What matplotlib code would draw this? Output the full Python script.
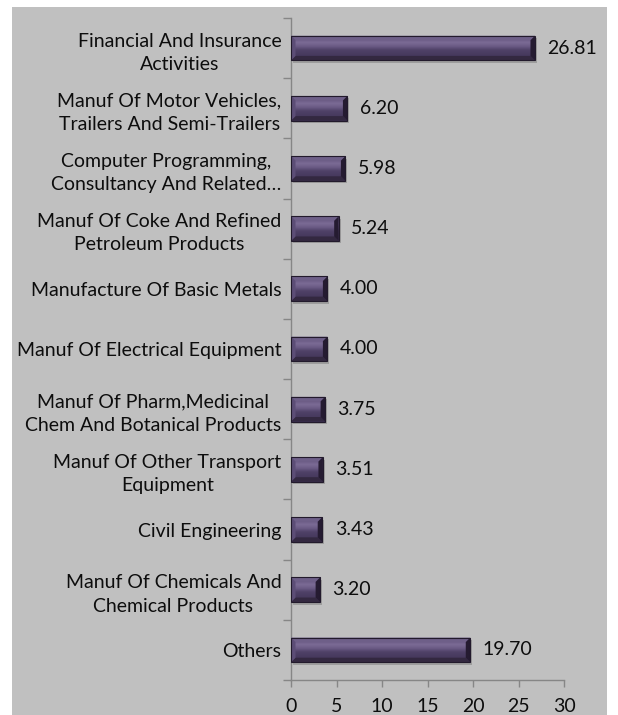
import matplotlib
matplotlib.use("Agg")
import matplotlib.pyplot as plt
import numpy as np
from matplotlib.patches import Polygon, Rectangle
from matplotlib.colors import LinearSegmentedColormap

categories = [
    "Financial And Insurance\nActivities",
    "Manuf Of Motor Vehicles,\nTrailers And Semi-Trailers",
    "Computer Programming,\nConsultancy And Related\u2026",
    "Manuf Of Coke And Refined\nPetroleum Products",
    "Manufacture Of Basic Metals",
    "Manuf Of Electrical Equipment",
    "Manuf Of Pharm,Medicinal\nChem And Botanical Products",
    "Manuf Of Other Transport\nEquipment",
    "Civil Engineering",
    "Manuf Of Chemicals And\nChemical Products",
    "Others",
]
values = [26.81, 6.20, 5.98, 5.24, 4.00, 4.00, 3.75, 3.51, 3.43, 3.20, 19.70]
x_ticks = [0, 5, 10, 15, 20, 25, 30]

plt.rcParams['font.family'] = ['Lato', 'DejaVu Sans']
FS = 14
TXT = '#0d0d0d'
W, H = 618, 715
fig = plt.figure(figsize=(W / 100, H / 100), dpi=100)
fig.patch.set_facecolor('white')
fig.patches.append(Rectangle((12 / W, 0), (607 - 12) / W, (H - 7) / H,
                             transform=fig.transFigure, facecolor='#c0c0c0',
                             edgecolor='none', zorder=-10))

ax = fig.add_axes([291 / W, 35 / H, (564 - 291) / W, (680 - 18) / H])
ax.set_facecolor('none')
n = len(categories)
y = np.arange(n)
bar_h = 0.41
ax.set_xlim(0, 30)
ax.set_ylim(n - 0.5, -0.5)

bars = ax.barh(y, values, height=bar_h, color='#4b3d63', edgecolor='none', zorder=3)

# pixel -> data conversion for bevel size
p0 = ax.transData.transform((0, 0))
p1 = ax.transData.transform((1, 1))
ppx = abs(p1[0] - p0[0])
ppy = abs(p1[1] - p0[1])
bevel = 4.5
bx, by = bevel / ppx, bevel / ppy
sx, sy = 2.0 / ppx, 2.5 / ppy

face_cmap = LinearSegmentedColormap.from_list(
    'face', [(0.0, '#5a4a73'), (0.30, '#7b6b95'), (0.45, '#6a5a84'),
             (0.6, '#4f4167'), (1.0, '#3f3255')])
grad = np.linspace(0, 1, 64).reshape(-1, 1)

for rect, v in zip(bars, values):
    x0 = rect.get_x()
    x1 = x0 + rect.get_width()
    yt = rect.get_y()
    yb = yt + rect.get_height()
    # soft shadow
    ax.add_patch(Rectangle((x0 + sx, yt + sy), x1 - x0, yb - yt, facecolor='black',
                           alpha=0.18, edgecolor='none', zorder=2))
    im = ax.imshow(grad, cmap=face_cmap, extent=(x0, x1, yb, yt), origin='upper',
                   aspect='auto', zorder=4, interpolation='bilinear')
    im.set_clip_path(rect)
    polys = [
        ([(x0, yt), (x1, yt), (x1 - bx, yt + by), (x0 + bx, yt + by)], '#6e5f88'),
        ([(x0, yb), (x1, yb), (x1 - bx, yb - by), (x0 + bx, yb - by)], '#332840'),
        ([(x0, yt), (x0 + bx, yt + by), (x0 + bx, yb - by), (x0, yb)], '#5c4d76'),
        ([(x1, yt), (x1 - bx, yt + by), (x1 - bx, yb - by), (x1, yb)], '#251b31'),
    ]
    for pts, c in polys:
        ax.add_patch(Polygon(pts, closed=True, facecolor=c, edgecolor='none', zorder=5))
    ax.add_patch(Rectangle((x0, yt), x1 - x0, yb - yt, facecolor='none',
                           edgecolor='#221a2c', linewidth=0.8, zorder=6))
    ax.annotate(f"{v:.2f}", xy=(v, rect.get_y() + rect.get_height() / 2),
                xytext=(9, 0), textcoords='offset points', va='center', ha='left',
                fontsize=FS, color=TXT, zorder=7)

ax.set_xlim(0, 30)
ax.set_ylim(n - 0.5, -0.5)

ax.set_yticks(y)
ax.set_yticklabels(categories, fontsize=FS, color=TXT)
for lbl in ax.get_yticklabels():
    lbl.set_multialignment('center')
    lbl.set_linespacing(1.45)
ax.set_yticks(np.arange(n + 1) - 0.5, minor=True)
ax.tick_params(axis='y', which='major', length=0, pad=7)
ax.tick_params(axis='y', which='minor', length=6, color='#868686', width=1)

ax.set_xticks(x_ticks)
ax.set_xticklabels([str(t) for t in x_ticks], fontsize=FS, color=TXT)
ax.tick_params(axis='x', which='major', length=5, color='#868686', width=1, pad=8)

for side in ('top', 'right'):
    ax.spines[side].set_visible(False)
for side in ('left', 'bottom'):
    ax.spines[side].set_color('#868686')
    ax.spines[side].set_linewidth(1)

fig.savefig('out.png', dpi=100, facecolor='white')
